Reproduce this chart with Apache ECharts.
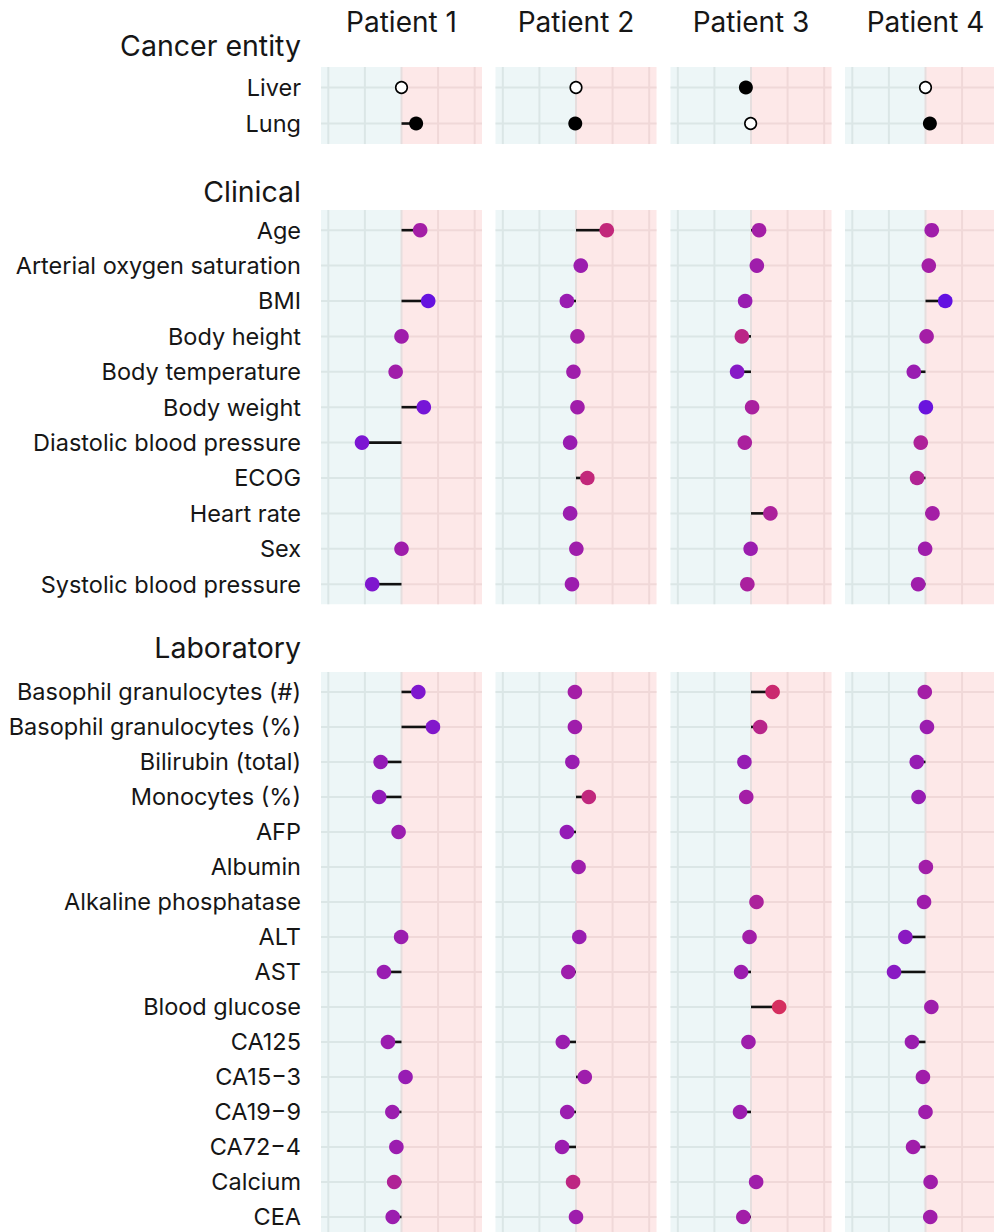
<!DOCTYPE html>
<html>
<head>
<meta charset="utf-8">
<script src="https://cdn.jsdelivr.net/npm/echarts@6/dist/echarts.min.js"></script>
<style>
  html, body { margin: 0; padding: 0; background: #ffffff; }
  #chart { width: 994px; height: 1232px; }
</style>
</head>
<body>
<div id="chart"></div>
<script>
// ---- data -------------------------------------------------------------
const patients = ['Patient 1', 'Patient 2', 'Patient 3', 'Patient 4'];

// Cancer entity: contribution per patient, and whether the entity applies (filled dot)
const entityRows = ['Liver', 'Lung'];
const entityShap = [
  [0.00, 0.00, -0.14, 0.00],
  [0.40, -0.02, -0.01, 0.12]
];
const entityPresent = [
  [0, 0, 1, 0],
  [1, 1, 0, 1]
];

// Clinical variables: contribution (x) per patient; null = not available
const clinicalRows = [
  'Age', 'Arterial oxygen saturation', 'BMI', 'Body height', 'Body temperature',
  'Body weight', 'Diastolic blood pressure', 'ECOG', 'Heart rate', 'Sex',
  'Systolic blood pressure'
];
const clinicalShap = [
  [0.51, 0.84, 0.22, 0.17],
  [null, 0.13, 0.16, 0.09],
  [0.73, -0.25, -0.16, 0.54],
  [0.00, 0.04, -0.25, 0.03],
  [-0.16, -0.07, -0.38, -0.32],
  [0.61, 0.04, 0.03, 0.01],
  [-1.08, -0.16, -0.17, -0.13],
  [null, 0.31, null, -0.23],
  [null, -0.16, 0.53, 0.19],
  [0.00, 0.01, -0.01, -0.01],
  [-0.80, -0.11, -0.10, -0.20]
];
// Relative feature value (0 = low, 1 = high), drives the dot colour
const clinicalFeature = [
  [0.50, 0.80, 0.50, 0.46],
  [null, 0.43, 0.45, 0.50],
  [0.05, 0.40, 0.40, 0.03],
  [0.45, 0.50, 0.72, 0.50],
  [0.46, 0.45, 0.25, 0.40],
  [0.14, 0.46, 0.55, 0.07],
  [0.18, 0.40, 0.56, 0.60],
  [null, 0.80, null, 0.64],
  [null, 0.42, 0.58, 0.50],
  [0.45, 0.45, 0.42, 0.45],
  [0.20, 0.43, 0.56, 0.45]
];

// Laboratory values
const labRows = [
  'Basophil granulocytes (#)', 'Basophil granulocytes (%)', 'Bilirubin (total)',
  'Monocytes (%)', 'AFP', 'Albumin', 'Alkaline phosphatase', 'ALT', 'AST',
  'Blood glucose', 'CA125', 'CA15\u22123', 'CA19\u22129', 'CA72\u22124', 'Calcium', 'CEA'
];
const labShap = [
  [0.46, -0.03, 0.59, -0.02],
  [0.86, -0.03, 0.25, 0.04],
  [-0.57, -0.10, -0.18, -0.24],
  [-0.61, 0.35, -0.13, -0.19],
  [-0.08, -0.25, null, null],
  [null, 0.07, null, 0.01],
  [null, null, 0.15, -0.04],
  [-0.01, 0.09, -0.04, -0.55],
  [-0.48, -0.21, -0.27, -0.86],
  [null, null, 0.77, 0.16],
  [-0.37, -0.36, -0.07, -0.37],
  [0.11, 0.24, null, -0.07],
  [-0.25, -0.24, -0.30, 0.00],
  [-0.14, -0.38, null, -0.34],
  [-0.20, -0.08, 0.14, 0.14],
  [-0.24, 0.00, -0.21, 0.13]
];
const labFeature = [
  [0.20, 0.50, 0.86, 0.50],
  [0.22, 0.45, 0.70, 0.42],
  [0.35, 0.40, 0.38, 0.38],
  [0.33, 0.78, 0.50, 0.38],
  [0.42, 0.35, null, null],
  [null, 0.44, null, 0.48],
  [null, null, 0.58, 0.45],
  [0.42, 0.40, 0.48, 0.28],
  [0.40, 0.44, 0.42, 0.27],
  [null, null, 0.95, 0.44],
  [0.42, 0.42, 0.44, 0.42],
  [0.38, 0.44, null, 0.46],
  [0.42, 0.42, 0.42, 0.45],
  [0.42, 0.42, null, 0.46],
  [0.62, 0.75, 0.46, 0.46],
  [0.42, 0.44, 0.48, 0.46]
];

const xTicks = [-2, -1, 0, 1, 2];

// ---- layout -----------------------------------------------------------
const W = 994, H = 1232;
const X_MIN = -2.2, X_SPAN = 4.4, PAD = 0.57;
const panelLeft = [321, 495.5, 670.5, 845];
const panelWidth = 161;
const unitPx = panelWidth / X_SPAN;
const FONT = 'Inter, "Noto Sans", sans-serif';
const TEXT = '#161616';
const TEAL = '#edf6f7', PINK = '#fde8e8';
const TEAL_LINE = '#dbe6e6', PINK_LINE = '#f0d8d8', MID_LINE = '#e6dede';

const sections = [
  { key: 'entity', title: 'Cancer entity', titleY: 45, top: 67, step: 36.0, rows: entityRows, yMax: 1 + PAD },
  { key: 'clinical', title: 'Clinical', titleY: 191, top: 210, step: 35.4, rows: clinicalRows, yMax: 10 + PAD },
  { key: 'lab', title: 'Laboratory', titleY: 647, top: 672, step: 35.0, rows: labRows, yMax: 16 + PAD }
];

function panelRenderer(rows, xMax, yMax, withLabels) {
  return function (params, api) {
    const yTop = api.coord([0, -PAD])[1];
    const yBot = api.coord([0, yMax])[1];
    const xL = api.coord([X_MIN, 0])[0];
    const x0 = api.coord([0, 0])[0];
    const xR = api.coord([xMax, 0])[0];
    const children = [
      { type: 'rect', shape: { x: xL, y: yTop, width: x0 - xL, height: yBot - yTop }, style: { fill: TEAL } },
      { type: 'rect', shape: { x: x0, y: yTop, width: xR - x0, height: yBot - yTop }, style: { fill: PINK } }
    ];
    xTicks.filter(function (t) { return t < xMax; }).forEach(function (t) {
      const x = api.coord([t, 0])[0];
      children.push({
        type: 'line',
        shape: { x1: x, y1: yTop, x2: x, y2: yBot },
        style: { stroke: t < 0 ? TEAL_LINE : (t > 0 ? PINK_LINE : MID_LINE), lineWidth: 2 }
      });
    });
    rows.forEach(function (name, i) {
      const y = api.coord([0, i])[1];
      children.push({ type: 'line', shape: { x1: xL, y1: y, x2: x0, y2: y }, style: { stroke: TEAL_LINE, lineWidth: 2 } });
      children.push({ type: 'line', shape: { x1: x0, y1: y, x2: xR, y2: y }, style: { stroke: PINK_LINE, lineWidth: 2 } });
      if (withLabels) {
        children.push({
          type: 'text', x: xL - 20, y: y,
          style: {
            text: name, fill: TEXT, font: '23.5px ' + FONT, lineHeight: 18,
            align: 'right', verticalAlign: 'middle'
          }
        });
      }
    });
    return { type: 'group', children: children };
  };
}

function lollipopRenderer(params, api) {
  const row = api.value(1);
  const p0 = api.coord([0, row]);
  const p = api.coord([api.value(0), row]);
  return {
    type: 'group',
    children: [
      { type: 'line', shape: { x1: p0[0], y1: p0[1], x2: p[0], y2: p[1] }, style: { stroke: '#111111', lineWidth: 2.6 } },
      { type: 'circle', shape: { cx: p[0], cy: p[1], r: 7.3 }, style: { fill: api.visual('color') } }
    ]
  };
}

function entityRenderer(params, api) {
  const row = api.value(1);
  const filled = api.value(2) === 1;
  const p0 = api.coord([0, row]);
  const p = api.coord([api.value(0), row]);
  return {
    type: 'group',
    children: [
      { type: 'line', shape: { x1: p0[0], y1: p0[1], x2: p[0], y2: p[1] }, style: { stroke: '#111111', lineWidth: 2.6 } },
      filled
        ? { type: 'circle', shape: { cx: p[0], cy: p[1], r: 7 }, style: { fill: '#000000' } }
        : { type: 'circle', shape: { cx: p[0], cy: p[1], r: 5.8 }, style: { fill: '#ffffff', stroke: '#000000', lineWidth: 1.6 } }
    ]
  };
}

const grids = [], xAxes = [], yAxes = [], series = [], colouredSeries = [];

sections.forEach(function (sec) {
  // panels that would run past the page edge are cut at the edge, keeping the same scale
  const fullHeight = (sec.yMax + PAD) * sec.step;
  const height = Math.min(fullHeight, H - sec.top);
  const yMax = -PAD + height / sec.step;
  patients.forEach(function (name, p) {
    const g = grids.length;
    const width = Math.min(panelWidth, W - panelLeft[p]);
    const xMax = X_MIN + width / unitPx;
    grids.push({ left: panelLeft[p], top: sec.top, width: width, height: height });
    xAxes.push({ type: 'value', gridIndex: g, min: X_MIN, max: xMax, show: false });
    yAxes.push({ type: 'value', gridIndex: g, min: -PAD, max: yMax, inverse: true, show: false });

    series.push({
      type: 'custom', xAxisIndex: g, yAxisIndex: g, clip: false, silent: true, z: 1,
      data: [[0, 0]],
      renderItem: panelRenderer(sec.rows, xMax, yMax, p === 0)
    });

    const points = [];
    if (sec.key === 'entity') {
      entityShap.forEach(function (vals, i) {
        if (vals[p] !== null) points.push([vals[p], i, entityPresent[i][p]]);
      });
      series.push({
        type: 'custom', xAxisIndex: g, yAxisIndex: g, clip: false, z: 3,
        dimensions: ['shap', 'row', 'present'],
        encode: { x: 0, y: 1 },
        data: points, renderItem: entityRenderer
      });
    } else {
      const shap = sec.key === 'clinical' ? clinicalShap : labShap;
      const feat = sec.key === 'clinical' ? clinicalFeature : labFeature;
      shap.forEach(function (vals, i) {
        if (vals[p] !== null) points.push([vals[p], i, feat[i][p]]);
      });
      colouredSeries.push(series.length);
      series.push({
        type: 'custom', xAxisIndex: g, yAxisIndex: g, clip: false, z: 3,
        dimensions: ['shap', 'row', 'feature'],
        encode: { x: 0, y: 1 },
        data: points, renderItem: lollipopRenderer
      });
    }
  });
});

const graphics = [];
patients.forEach(function (name, p) {
  graphics.push({
    type: 'text', x: panelLeft[p] + panelWidth / 2, y: 22, silent: true,
    style: { text: name, fill: TEXT, font: '28px ' + FONT, align: 'center', verticalAlign: 'middle' }
  });
});
sections.forEach(function (sec) {
  graphics.push({
    type: 'text', x: 301, y: sec.titleY, silent: true,
    style: { text: sec.title, fill: TEXT, font: '28.5px ' + FONT, align: 'right', verticalAlign: 'middle' }
  });
});

const chart = echarts.init(document.getElementById('chart'), null, { renderer: 'svg', width: W, height: H });
chart.setOption({
  animation: false,
  backgroundColor: '#ffffff',
  grid: grids,
  xAxis: xAxes,
  yAxis: yAxes,
  visualMap: {
    type: 'continuous', show: false, dimension: 2, min: 0, max: 1,
    seriesIndex: colouredSeries,
    inRange: { color: ['#5e10e4', '#7a16d4', '#921bb8', '#a41ea6', '#b42490', '#c62874', '#dc3156'] }
  },
  graphic: graphics,
  series: series
});
</script>
</body>
</html>
